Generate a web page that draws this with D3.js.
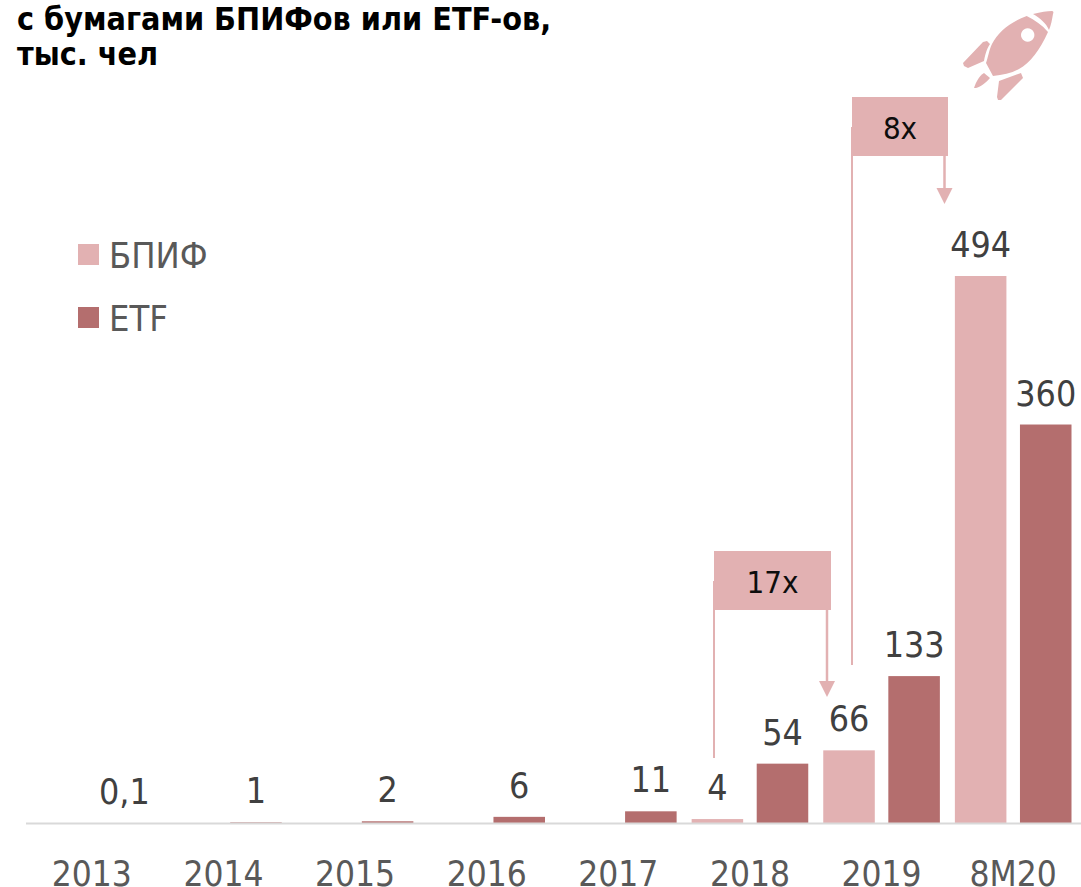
<!DOCTYPE html>
<html>
<head>
<meta charset="utf-8">
<script src="https://cdn.jsdelivr.net/npm/d3@7"></script>
<style>
    html, body { margin: 0; padding: 0; background: #fff; overflow: hidden; }
    text { font-family: "DejaVu Sans Condensed", "DejaVu Sans", sans-serif; font-stretch: condensed; }
</style>
</head>
<body>
<div id="chart"></div>
<script>
const categories = ["2013", "2014", "2015", "2016", "2017", "2018", "2019", "8M20"];
const seriesNames = ["БПИФ", "ETF"];
const bpifValues = [null, null, null, null, null, 4, 66, 494];
const etfValues = [0.1, 1, 2, 6, 11, 54, 133, 360];
const titleLines = ["с бумагами БПИФов или ETF-ов,", "тыс. чел"];

const width = 1081, height = 887;
const lightColor = "#e2b1b2", darkColor = "#b46e6e";
const baseline = 823.5;

const svg = d3.select("#chart").append("svg")
    .attr("width", width)
    .attr("height", height);

// scales
const x = d3.scaleBand().domain(categories).range([26, 1079]).paddingInner(0).paddingOuter(0);
const x1 = d3.scaleBand().domain(seriesNames).range([7.5, x.bandwidth() - 7.5]).paddingInner(0.208).paddingOuter(0);
const y = d3.scaleLinear().domain([0, 494]).range([baseline, 276]);

const color = d3.scaleOrdinal().domain(seriesNames).range([lightColor, darkColor]);

const rows = [];
seriesNames.forEach((name, s) => {
    const values = s === 0 ? bpifValues : etfValues;
    values.forEach((v, i) => {
        if (v !== null) rows.push({cat: categories[i], series: name, value: v});
    });
});

const label = d => String(d.value).replace(".", ",");

// title
svg.append("g").selectAll("text")
    .data(titleLines)
    .enter().append("text")
    .attr("x", 17)
    .attr("y", (d, i) => 30 + i * 35)
    .attr("font-size", 32)
    .attr("font-weight", 700)
    .attr("fill", "#000")
    .text(d => d);

// bars
svg.append("g").selectAll("rect")
    .data(rows)
    .enter().append("rect")
    .attr("x", d => x(d.cat) + x1(d.series))
    .attr("y", d => y(d.value))
    .attr("width", x1.bandwidth())
    .attr("height", d => baseline - y(d.value))
    .attr("fill", d => color(d.series));

// axis line
svg.append("line")
    .attr("x1", 26).attr("x2", 1081)
    .attr("y1", baseline).attr("y2", baseline)
    .attr("stroke", "#d9d9d9")
    .attr("stroke-width", 2);

// value labels
svg.append("g").selectAll("text")
    .data(rows)
    .enter().append("text")
    .attr("x", d => x(d.cat) + x1(d.series) + x1.bandwidth() / 2)
    .attr("y", d => y(d.value) - 19)
    .attr("text-anchor", "middle")
    .attr("font-size", 35.5)
    .attr("fill", "#404040")
    .text(label);

// category labels
svg.append("g").selectAll("text")
    .data(categories)
    .enter().append("text")
    .attr("x", d => x(d) + x.bandwidth() / 2)
    .attr("y", 885.5)
    .attr("text-anchor", "middle")
    .attr("font-size", 35)
    .attr("fill", "#595959")
    .text(d => d);

// legend
const legend = svg.append("g").selectAll("g")
    .data(seriesNames)
    .enter().append("g")
    .attr("transform", (d, i) => `translate(78, ${244 + i * 63})`);
legend.append("rect")
    .attr("width", 21).attr("height", 21)
    .attr("fill", d => color(d));
legend.append("text")
    .attr("x", 31).attr("y", 23.5)
    .attr("font-size", 36)
    .attr("fill", "#595959")
    .text(d => d);

// growth callouts
function callout(text, x0, x2, top, lineEnd, arrowX, tipY) {
    const g = svg.append("g");
    g.append("line")
        .attr("x1", x0).attr("x2", x0)
        .attr("y1", top + 30).attr("y2", lineEnd)
        .attr("stroke", lightColor).attr("stroke-width", 2);
    g.append("line")
        .attr("x1", arrowX).attr("x2", arrowX)
        .attr("y1", top + 59).attr("y2", tipY - 15)
        .attr("stroke", lightColor).attr("stroke-width", 2.5);
    g.append("path")
        .attr("d", d3.line()([[arrowX - 8, tipY - 16], [arrowX + 8, tipY - 16], [arrowX, tipY]]) + "Z")
        .attr("fill", lightColor);
    g.append("rect")
        .attr("x", x0).attr("y", top)
        .attr("width", x2 - x0).attr("height", 59)
        .attr("fill", lightColor);
    g.append("text")
        .attr("x", (x0 + x2) / 2).attr("y", top + 42)
        .attr("text-anchor", "middle")
        .attr("font-size", 31)
        .attr("fill", "#0d0d0d")
        .text(text);
}
callout("17x", 714, 831, 551, 758, 827, 697);
callout("8x", 852, 948, 97, 665, 944.5, 204);

// rocket
const rocket = svg.append("g").attr("fill", lightColor);
rocket.append("path")
    .attr("fill-rule", "evenodd")
    .attr("d", "M1026.7,16 C1010,22 998,32 992,44 C989,50 988,58 986,63 L993,76 C1003,75 1012,73 1019,69 C1030,63 1040,50 1048,32 C1042,25 1035,20 1026.7,16 Z M1027.7,28.3 a6.7,6.7 0 1,0 0.01,0 Z");
rocket.append("path").attr("d", "M1033,14 C1041,12 1047,11 1052,11 C1053,11 1054,12 1053,14 C1052,20 1051,25 1049,30 C1046,23 1040,18 1033,14 Z");
rocket.append("path").attr("d", "M983,42 L987,41 L990,44 C986,50 985,56 984,61 L968,68 L964,66 L963,63 Z");
rocket.append("path").attr("d", "M984,73 L990,78 C986,83 980,87 976,88 L974,88 C976,82 979,76 984,73 Z");
rocket.append("path").attr("d", "M1021,73 L1023,78 L1001,100 L998,100 L997,97 L999,81 Z");
</script>
</body>
</html>
